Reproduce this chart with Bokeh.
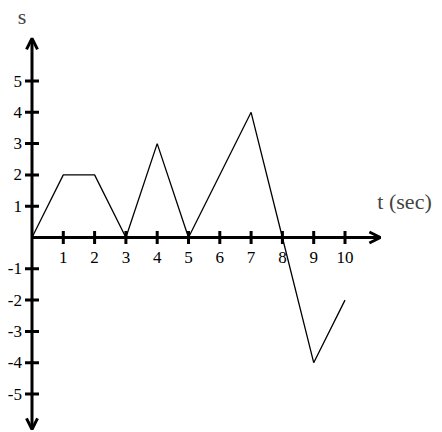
from bokeh.plotting import figure
from bokeh.models import Arrow, OpenHead, Label, Range1d, ColumnDataSource
from bokeh.core.properties import value
from bokeh.embed import file_html
from bokeh.resources import INLINE
import math

# data
t = [0, 1, 2, 3, 4, 5, 7, 8, 9, 10]
s = [0, 2, 2, 0, 3, 0, 4, 0, -4, -2]
x_ticks = [1, 2, 3, 4, 5, 6, 7, 8, 9, 10]
y_ticks = [-5, -4, -3, -2, -1, 1, 2, 3, 4, 5]
x_title = "t (sec)"
y_title = "s"

# axis extents (data units)
x_axis_end = 11.13
y_axis_top = 6.36
y_axis_bottom = -6.13

W, H = 442, 432
unit = 31.3
ox, oy = 31.5, 237.0  # origin in canvas px

p = figure(width=W, height=H,
           x_range=Range1d(-ox / unit, (W - ox) / unit),
           y_range=Range1d(-(H - oy) / unit, oy / unit),
           output_backend="svg", toolbar_location=None,
           x_axis_location=None, y_axis_location=None,
           min_border=0, outline_line_color=None,
           background_fill_color="white", border_fill_color="white")
p.grid.visible = False

FONT = value("Liberation Serif")

# axes with arrowheads
p.add_layout(Arrow(x_start=0, y_start=0, x_end=x_axis_end, y_end=0,
                   line_width=3, line_color="black",
                   end=OpenHead(size=11, line_width=3, line_color="black")))
p.add_layout(Arrow(x_start=0, y_start=y_axis_bottom, x_end=0, y_end=y_axis_top,
                   line_width=3, line_color="black",
                   start=OpenHead(size=11, line_width=3, line_color="black"),
                   end=OpenHead(size=11, line_width=3, line_color="black")))

# ticks
xt = ColumnDataSource(dict(x=x_ticks, y=[0] * len(x_ticks), lab=[str(v) for v in x_ticks]))
yt = ColumnDataSource(dict(x=[0] * len(y_ticks), y=y_ticks, lab=[str(v) for v in y_ticks]))
p.scatter("x", "y", source=xt, marker="dash", angle=math.pi / 2, size=13,
          line_width=3, line_color="black")
p.scatter("x", "y", source=yt, marker="dash", size=14,
          line_width=3, line_color="black")

# tick labels
p.text("x", "y", text="lab", source=xt, text_font=FONT, text_font_size="17px",
       text_align="center", text_baseline="top", y_offset=14, text_color="black")
p.text("x", "y", text="lab", source=yt, text_font=FONT, text_font_size="17px",
       text_align="right", text_baseline="middle", x_offset=-10, text_color="black")

# data line
p.line(t, s, line_width=1.3, line_color="black")

# titles
p.add_layout(Label(x=x_axis_end, y=0.75, text=x_title, text_font="Liberation Serif",
                   text_font_size="22px", text_align="left", text_baseline="bottom",
                   x_offset=-3))
p.add_layout(Label(x=0, y=y_axis_top, text=y_title, text_font="Liberation Serif",
                   text_font_size="22px", text_align="center", text_baseline="bottom",
                   x_offset=-10, y_offset=9))

open("out.html", "w").write(file_html(p, INLINE))
